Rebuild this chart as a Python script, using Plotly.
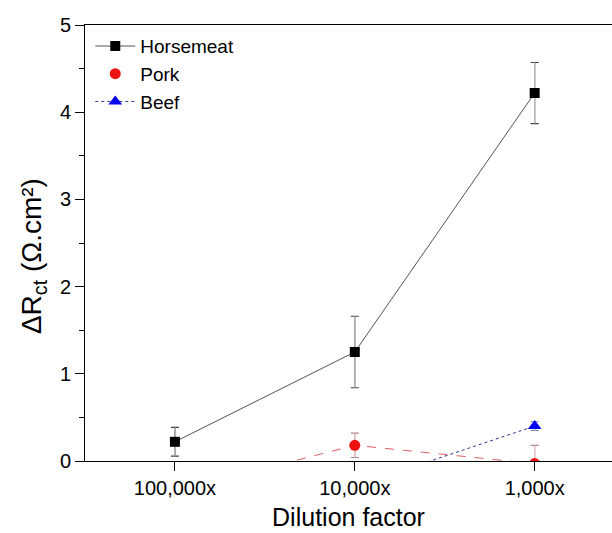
import plotly.graph_objects as go

categories = ["100,000x", "10,000x", "1,000x"]
x_pos = [0, 1, 2]
horsemeat = [0.22, 1.25, 4.22]
horsemeat_err = [0.165, 0.41, 0.35]
pork = [-0.35, 0.18, -0.03]
pork_err = [0.15, 0.14, 0.21]
beef = [-0.55, -0.29, 0.40]
beef_err = [0.1, 0.1, 0.05]

FONT = "Liberation Sans, Arial, sans-serif"

fig = go.Figure()


def add_err(y, err, cap_color, stem_color):
    # caps (full bar in cap colour), then stem overdrawn in lighter colour
    fig.add_trace(go.Scatter(
        x=x_pos, y=y, mode="markers", showlegend=False, hoverinfo="skip",
        marker=dict(size=1, color="rgba(0,0,0,0)"),
        error_y=dict(type="data", array=err, color=cap_color, thickness=1.2, width=4),
    ))
    fig.add_trace(go.Scatter(
        x=x_pos, y=y, mode="markers", showlegend=False, hoverinfo="skip",
        marker=dict(size=1, color="rgba(0,0,0,0)"),
        error_y=dict(type="data", array=err, color=stem_color, thickness=1, width=0),
    ))


add_err(horsemeat, horsemeat_err, "#404040", "#cccccc")
add_err(pork, pork_err, "#b08080", "#e8d0d0")
add_err(beef, beef_err, "#8080b0", "#d0d0e8")

fig.add_trace(go.Scatter(
    x=x_pos, y=horsemeat, name="Horsemeat", mode="lines+markers",
    line=dict(color="#555555", width=1),
    marker=dict(symbol="square", size=10, color="black"),
))
fig.add_trace(go.Scatter(
    x=x_pos, y=pork, name="Pork", mode="lines+markers", showlegend=False,
    line=dict(color="#e06060", width=1, dash="dash"),
    marker=dict(symbol="circle", size=11, color="#ee1111"),
))
# legend entry for Pork (marker only, as in the reference legend)
fig.add_trace(go.Scatter(
    x=[None], y=[None], name="Pork", mode="markers",
    marker=dict(symbol="circle", size=11, color="#ee1111"),
))
fig.add_trace(go.Scatter(
    x=x_pos, y=beef, name="Beef", mode="lines+markers",
    line=dict(color="#333399", width=1, dash="dot"),
    marker=dict(symbol="triangle-up", size=12, color="#0000ee"),
))

fig.update_layout(
    width=612, height=533,
    margin=dict(l=85, r=0, t=25, b=72),
    plot_bgcolor="white", paper_bgcolor="white",
    font=dict(family=FONT, size=20, color="black"),
    showlegend=True,
    legend=dict(x=0.01, y=0.995, xanchor="left", yanchor="top",
                bgcolor="rgba(0,0,0,0)", font=dict(size=19), tracegroupgap=0,
                itemwidth=40),
    xaxis=dict(
        range=[-0.5, 2.43], tickvals=x_pos, ticktext=categories,
        showgrid=False, zeroline=False, showline=True, linecolor="black", linewidth=1,
        mirror=True, ticks="outside", ticklen=9, tickcolor="black",
        tickfont=dict(size=20),
        title=dict(text="Dilution factor", font=dict(size=25), standoff=10),
    ),
    yaxis=dict(
        range=[0, 5], tickvals=[0, 1, 2, 3, 4, 5],
        showgrid=False, zeroline=False, showline=True, linecolor="black", linewidth=1,
        ticks="outside", ticklen=9, tickcolor="black",
        tickfont=dict(size=20),
        minor=dict(tickvals=[0.5, 1.5, 2.5, 3.5, 4.5], ticks="outside", ticklen=5, tickcolor="black"),
    ),
    annotations=[dict(
        text="ΔR<sub>ct</sub> (Ω.cm²)", textangle=-90, showarrow=False,
        xref="paper", yref="paper", x=0, y=0.47, xshift=-52,
        xanchor="center", yanchor="middle", font=dict(size=28),
    )],
)

fig.write_html("out.html")
